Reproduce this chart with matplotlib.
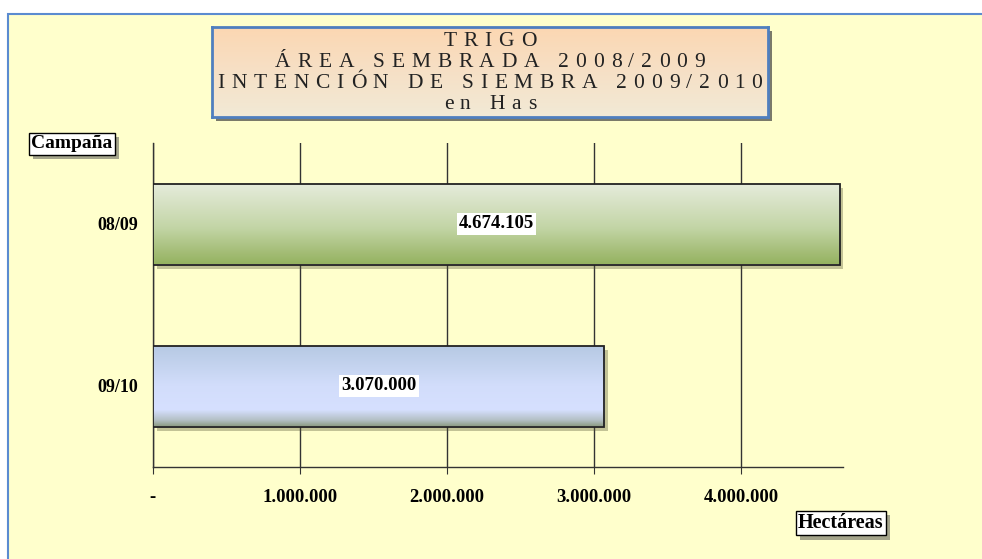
import numpy as np
import matplotlib
matplotlib.use("Agg")
import matplotlib.pyplot as plt
from matplotlib.patches import Rectangle
from matplotlib.font_manager import FontProperties
import matplotlib.patheffects as pe
from matplotlib.ticker import FixedLocator

# ---- data ----
campaigns = ["08/09", "09/10"]
hectares = [4674105, 3070000]
value_labels = ["4.674.105", "3.070.000"]
xticks = [0, 1000000, 2000000, 3000000, 4000000]
xtick_labels = ["-", "1.000.000", "2.000.000", "3.000.000", "4.000.000"]
title_lines = ["TRIGO", "ÁREA SEMBRADA 2008/2009", "INTENCIÓN DE SIEMBRA 2009/2010", "en Has"]
y_title = "Campaña"
x_title = "Hectáreas"

W, H = 982, 559
BG = "#FFFFCC"
SERIF = ["Liberation Serif", "DejaVu Serif"]

fig = plt.figure(figsize=(W / 100, H / 100), dpi=100)
fig.patch.set_facecolor("white")

# chart area background with blue border on top / left
bgax = fig.add_axes([0, 0, 1, 1], zorder=-5)
bgax.set_axis_off()
bgax.set_xlim(0, W); bgax.set_ylim(H, 0)
bgax.add_patch(Rectangle((8, 14), W + 20, H + 20, facecolor=BG, edgecolor="#5b8bd0", lw=1.5))

# ---- main axes ----
ax = fig.add_axes([153 / W, 1 - 467 / H, 690 / W, 324 / H])
ax.set_facecolor("none")
ypos = np.arange(len(campaigns))

for s in ["top", "right"]:
    ax.spines[s].set_visible(False)
for s in ["left", "bottom"]:
    ax.spines[s].set_color("#333333")
    ax.spines[s].set_linewidth(1.0)

grads = [
    [(0.0, "#e6ecdc"), (0.55, "#c3d5a6"), (1.0, "#95b260")],
    [(0.0, "#b6c9e3"), (0.5, "#d2ddfb"), (0.8, "#d6e0ff"), (0.93, "#b3bfc4"), (1.0, "#8f9e88")],
]


def make_grad(stops, n=200):
    t = np.linspace(0, 1, n)
    pos = [p for p, _ in stops]
    cols = np.array([matplotlib.colors.to_rgb(c) for _, c in stops])
    out = np.stack([np.interp(t, pos, cols[:, k]) for k in range(3)], axis=1)
    return out[:, None, :]


bars = ax.barh(ypos, hectares, height=0.5, color="#cccccc", edgecolor="none", zorder=2)
for b, g in zip(bars, grads):
    b.set_path_effects([pe.SimplePatchShadow(offset=(3, -3), shadow_rgbFace="#555533", alpha=0.35),
                        pe.Normal()])
    x0, y0 = b.get_x(), b.get_y()
    w, h = b.get_width(), b.get_height()
    im = ax.imshow(make_grad(g), extent=(x0, x0 + w, y0 + h, y0), aspect="auto",
                   zorder=3, interpolation="bilinear")
    im.set_clip_path(b)
ax.barh(ypos, hectares, height=0.5, facecolor="none", edgecolor="#222222", lw=1.3, zorder=4)
ax.set_xlim(0, 4694000)
ax.set_ylim(len(campaigns) - 0.5, -0.5)

ax.xaxis.set_major_locator(FixedLocator(xticks))
ax.set_xticklabels(xtick_labels, fontfamily=SERIF, fontweight="bold", fontsize=13.5)
ax.tick_params(axis="x", direction="out", length=5, color="#333333", pad=11)
ax.set_yticks(ypos)
ax.set_yticklabels(campaigns, fontfamily=SERIF, fontweight="bold", fontsize=13)
ax.tick_params(axis="y", length=0, pad=11)
ax.grid(axis="x", color="#333333", lw=1.0, zorder=1)
ax.set_axisbelow(True)

for y, v, lab in zip(ypos, hectares, value_labels):
    ax.text(v / 2, y, lab, ha="center", va="center", fontfamily=SERIF, fontweight="bold",
            fontsize=13.5, zorder=5,
            bbox=dict(boxstyle="square,pad=0.12", facecolor="white", edgecolor="none"))


# ---- axis title boxes ----
def label_box(x, y, text, size):
    fig.text(x, y, text, ha="left", va="center", fontfamily=SERIF, fontweight="bold",
             fontsize=size, color="black",
             bbox=dict(boxstyle="square,pad=0.12", facecolor="white", edgecolor="black", lw=1.0,
                       path_effects=[pe.SimplePatchShadow(offset=(3, -3), alpha=0.5), pe.Normal()]))


label_box(31 / W, 1 - 144 / H, y_title, 14)
label_box(798 / W, 1 - 523 / H, x_title, 14.5)

# ---- title box ----
tb = (212, 27, 556, 90)
shadow_ax = fig.add_axes([(tb[0] + 4) / W, 1 - (tb[1] + tb[3] + 4) / H, tb[2] / W, tb[3] / H])
shadow_ax.set_xticks([]); shadow_ax.set_yticks([])
for s in shadow_ax.spines.values():
    s.set_visible(False)
shadow_ax.set_facecolor("#7a7a6a")

tax = fig.add_axes([tb[0] / W, 1 - (tb[1] + tb[3]) / H, tb[2] / W, tb[3] / H])
tax.imshow(make_grad([(0, "#fcd7b2"), (0.5, "#f6e0c6"), (1, "#f2ead6")]), extent=(0, 1, 0, 1),
           aspect="auto", interpolation="bilinear")
tax.set_xlim(0, 1); tax.set_ylim(0, 1)
tax.set_xticks([]); tax.set_yticks([])
for s in tax.spines.values():
    s.set_color("#4f7fbf"); s.set_linewidth(2)

# letter-spaced title lines, characters placed one by one
renderer = fig.canvas.get_renderer()
fp = FontProperties(family=SERIF, size=15.5)


def char_widths(line):
    ws = []
    for ch in line:
        if ch == " ":
            w, _, _ = renderer.get_text_width_height_descent("a a", fp, ismath=False)
            w2, _, _ = renderer.get_text_width_height_descent("aa", fp, ismath=False)
            ws.append(w - w2)
        else:
            w, _, _ = renderer.get_text_width_height_descent(ch, fp, ismath=False)
            ws.append(w)
    return ws


target_width = 545.0
ref_ws = char_widths(title_lines[2])
tracking = (target_width - sum(ref_ws)) / (len(title_lines[2]) - 1)

baselines = [46, 67, 88, 109]
cx = tb[0] + tb[2] / 2
for yb, line in zip(baselines, title_lines):
    ws = char_widths(line)
    total = sum(ws) + tracking * (len(line) - 1)
    x = cx - total / 2
    for ch, w in zip(line, ws):
        if ch != " ":
            fig.text(x / W, 1 - yb / H, ch, ha="left", va="baseline", fontproperties=fp,
                     color="#222222")
        x += w + tracking

fig.savefig("out.png", dpi=100, facecolor=fig.get_facecolor())
